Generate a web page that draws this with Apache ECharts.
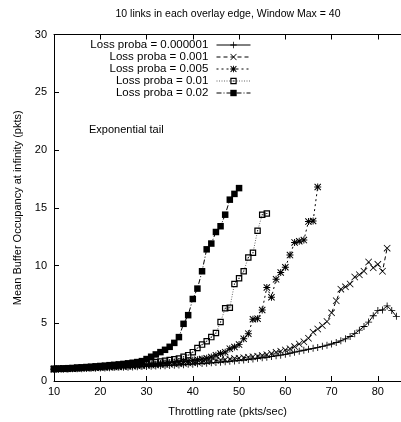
<!DOCTYPE html>
<html>
<head>
<meta charset="utf-8">
<script src="https://cdn.jsdelivr.net/npm/echarts@6/dist/echarts.min.js"></script>
<style>
  html, body { margin: 0; padding: 0; background: #fff; }
  #chart { width: 401px; height: 422px; }
</style>
</head>
<body>
<div id="chart"></div>
<script>
// x values start at 10 and go up one pkt/sec per point
const xStart = 10;
const seriesNames = ['Loss proba = 0.000001', 'Loss proba = 0.001', 'Loss proba = 0.005', 'Loss proba = 0.01', 'Loss proba = 0.02'];

// 0.000001 : x = 10..84
const p000001 = [1.00, 1.01, 1.02, 1.04, 1.05, 1.06, 1.07, 1.08, 1.10, 1.11,
  1.12, 1.13, 1.15, 1.16, 1.18, 1.19, 1.20, 1.22, 1.23, 1.25,
  1.26, 1.28, 1.30, 1.31, 1.33, 1.35, 1.37, 1.39, 1.41, 1.44,
  1.46, 1.49, 1.51, 1.54, 1.57, 1.60, 1.63, 1.67, 1.70, 1.74,
  1.78, 1.82, 1.86, 1.91, 1.96, 2.01, 2.06, 2.12, 2.18, 2.24,
  2.31, 2.40, 2.50, 2.58, 2.66, 2.75, 2.83, 2.91, 3.00, 3.10,
  3.20, 3.33, 3.48, 3.65, 3.85, 4.10, 4.40, 4.72, 5.10, 5.65,
  6.10, 6.15, 6.50, 6.10, 5.60];
// 0.001 : x = 10..82
const p001 = [1.02, 1.03, 1.04, 1.06, 1.07, 1.08, 1.10, 1.11, 1.13, 1.14,
  1.16, 1.17, 1.19, 1.21, 1.22, 1.24, 1.26, 1.28, 1.30, 1.32,
  1.34, 1.36, 1.38, 1.40, 1.43, 1.45, 1.48, 1.50, 1.53, 1.56,
  1.59, 1.62, 1.66, 1.69, 1.73, 1.77, 1.81, 1.85, 1.89, 1.94,
  1.98, 2.02, 2.06, 2.10, 2.15, 2.20, 2.28, 2.38, 2.48, 2.58,
  2.68, 2.80, 2.98, 3.20, 3.40, 3.70, 4.22, 4.50, 4.80, 5.15,
  5.90, 6.95, 7.95, 8.15, 8.40, 9.00, 9.20, 9.50, 10.30, 9.80,
  10.10, 9.50, 11.50];
// 0.005 : x = 10..67
const p005 = [1.03, 1.04, 1.06, 1.07, 1.09, 1.10, 1.12, 1.14, 1.15, 1.17,
  1.19, 1.21, 1.23, 1.25, 1.27, 1.29, 1.32, 1.34, 1.37, 1.39,
  1.42, 1.45, 1.48, 1.51, 1.55, 1.58, 1.62, 1.66, 1.70, 1.74,
  1.79, 1.84, 1.90, 1.97, 2.07, 2.22, 2.38, 2.50, 2.80, 2.95,
  3.15, 3.65, 4.10, 5.35, 5.40, 6.15, 8.10, 7.25, 8.80, 9.40,
  9.85, 10.90, 12.00, 12.10, 12.20, 13.80, 13.85, 16.80];
// 0.01 : x = 10..56
const p01 = [1.04, 1.06, 1.07, 1.09, 1.11, 1.13, 1.15, 1.17, 1.19, 1.21,
  1.23, 1.26, 1.28, 1.31, 1.34, 1.37, 1.40, 1.43, 1.47, 1.51,
  1.55, 1.59, 1.64, 1.69, 1.75, 1.81, 1.88, 1.95, 2.10, 2.24,
  2.50, 2.85, 3.15, 3.45, 3.80, 4.15, 5.10, 6.30, 6.35, 8.40,
  8.90, 9.50, 10.70, 11.10, 13.00, 14.40, 14.50];
// 0.02 : x = 10..50
const p02 = [1.05, 1.07, 1.09, 1.11, 1.13, 1.16, 1.18, 1.21, 1.24, 1.27,
  1.30, 1.33, 1.37, 1.40, 1.44, 1.48, 1.53, 1.58, 1.64, 1.72,
  1.90, 2.10, 2.30, 2.50, 2.70, 2.96, 3.30, 3.80, 4.95, 5.70,
  7.10, 8.00, 9.50, 11.40, 11.90, 12.90, 13.40, 14.40, 15.70, 16.20,
  16.70];

const xTicks = [10, 20, 30, 40, 50, 60, 70, 80];
const yTicks = [0, 5, 10, 15, 20, 25, 30];

const FONT = 'Liberation Sans';

function pairs(ys) {
  return ys.map((y, i) => [xStart + i, y]);
}

// marker shapes
const plusPath = 'path://M4.4,0H5.6V10H4.4Z M0,4.4H10V5.6H0Z';
const crossPath = 'path://M0.8,0L10,9.2L9.2,10L0,0.8Z M9.2,0L10,0.8L0.8,10L0,9.2Z';
const starPath = 'path://M4.3,0H5.7V10H4.3Z M0,4.3H10V5.7H0Z M1,0L10,9L9,10L0,1Z M9,0L10,1L1,10L0,9Z';
// open square with a dot in the middle
const boxPath = 'path://M0,0H10V10H0Z M1.9,1.9V8.1H8.1V1.9Z M4.2,4.2H5.8V5.8H4.2Z';

const styles = [
  { data: p000001, symbol: plusPath, size: 7, line: 'solid', color: '#000' },
  { data: p001, symbol: crossPath, size: 7, line: [4, 3], color: '#000' },
  { data: p005, symbol: starPath, size: 7, line: [2, 3], color: '#000' },
  { data: p01, symbol: boxPath, size: 6.5, line: [1, 1.5], color: '#666' },
  { data: p02, symbol: 'rect', size: 6.5, line: [5, 2, 1, 2], color: '#000' }
];

const chart = echarts.init(document.getElementById('chart'), null, { renderer: 'canvas' });

const series = styles.map((s, i) => ({
  name: seriesNames[i],
  type: 'line',
  data: pairs(s.data),
  symbol: s.symbol,
  symbolSize: s.size,
  showAllSymbol: true,
  animation: false,
  lineStyle: { color: s.color, width: 1, type: s.line },
  itemStyle: { color: '#000', borderWidth: 0 },
  emphasis: { disabled: true },
  z: 2 + i
}));

const option = {
  animation: false,
  textStyle: { fontFamily: FONT },
  grid: { left: 54, top: 34.5, right: -2, bottom: 37.5, containLabel: false },
  legend: {
    orient: 'vertical',
    align: 'right',
    right: 150,
    top: 39,
    padding: 0,
    itemWidth: 34,
    itemHeight: 8,
    itemGap: 0,
    lineStyle: { width: 1 },
    formatter: name => name + ' ',
    textStyle: { fontFamily: FONT, fontSize: 11.5, color: '#000', lineHeight: 12 },
    data: seriesNames
  },
  xAxis: [{
    type: 'value',
    min: 10,
    max: 85,
    interval: 10,
    name: 'Throttling rate (pkts/sec)',
    nameLocation: 'middle',
    nameGap: 25,
    nameTextStyle: { fontFamily: FONT, fontSize: 11, color: '#000' },
    axisLine: { lineStyle: { color: '#000', width: 1 } },
    axisTick: { inside: true, length: 5, lineStyle: { color: '#000' } },
    axisLabel: { fontFamily: FONT, fontSize: 11, color: '#000', margin: 5, showMaxLabel: false },
    splitLine: { show: false }
  }, {
    type: 'value',
    position: 'top',
    min: 10,
    max: 85,
    interval: 10,
    axisLine: { show: true, lineStyle: { color: '#000', width: 1 } },
    axisTick: { inside: true, length: 5, lineStyle: { color: '#000' } },
    axisLabel: { show: false },
    splitLine: { show: false }
  }],
  yAxis: {
    type: 'value',
    min: 0,
    max: 30,
    interval: 5,
    name: 'Mean Buffer Occupancy at infinity (pkts)',
    nameLocation: 'middle',
    nameGap: 23,
    nameTextStyle: { fontFamily: FONT, fontSize: 11, color: '#000' },
    axisLine: { show: true, lineStyle: { color: '#000', width: 1 } },
    axisTick: { show: true, inside: true, length: 5, lineStyle: { color: '#000' } },
    axisLabel: { fontFamily: FONT, fontSize: 11, color: '#000', margin: 7 },
    splitLine: { show: false }
  },
  graphic: [{
    type: 'text',
    x: 228,
    y: 9,
    style: {
      text: '10 links in each overlay edge, Window Max = 40',
      font: '10.5px "' + FONT + '"',
      fill: '#000',
      align: 'center',
      textAlign: 'center'
    }
  }, {
    type: 'text',
    left: 89,
    top: 124,
    style: {
      text: 'Exponential tail',
      font: '11px "' + FONT + '"',
      fill: '#000'
    }
  }],
  series: series
};

chart.setOption(option);
</script>
</body>
</html>
